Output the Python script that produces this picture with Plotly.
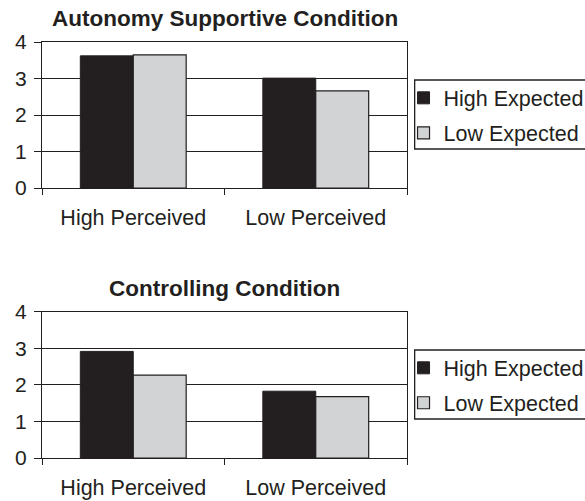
import plotly.graph_objects as go
from plotly.subplots import make_subplots

categories = ["High Perceived", "Low Perceived"]
series_names = ["High Expected", "Low Expected"]
autonomy_high_expected = [3.62, 3.01]
autonomy_low_expected = [3.65, 2.66]
controlling_high_expected = [2.92, 1.83]
controlling_low_expected = [2.27, 1.68]
titles = ["Autonomy Supportive Condition", "Controlling Condition"]
y_ticks = [0, 1, 2, 3, 4]

INK = "#231f20"
GRAY = "#d1d3d4"
FONT = "Liberation Sans, Arial, sans-serif"

fig = make_subplots(rows=2, cols=1, vertical_spacing=0.298,
                    subplot_titles=titles)

panels = [(autonomy_high_expected, autonomy_low_expected, "legend"),
          (controlling_high_expected, controlling_low_expected, "legend2")]
for i, (hi, lo, lg) in enumerate(panels, start=1):
    fig.add_trace(go.Bar(x=categories, y=hi, name=series_names[0],
                         marker=dict(color=INK, line=dict(color=INK, width=1)),
                         legend=lg, legendgroup="a%d" % i), row=i, col=1)
    fig.add_trace(go.Bar(x=categories, y=lo, name=series_names[1],
                         marker=dict(color=GRAY, line=dict(color=INK, width=1.2)),
                         legend=lg, legendgroup="b%d" % i), row=i, col=1)

axis_common = dict(showline=True, linecolor=INK, linewidth=1.3, mirror=True)
for i in (1, 2):
    fig.update_xaxes(type="category", tickson="boundaries", ticks="outside",
                     ticklen=6, tickcolor=INK, tickwidth=1.3, showgrid=False,
                     tickfont=dict(size=21.5, color=INK, family=FONT),
                     ticklabelstandoff=10, **axis_common, row=i, col=1)
    fig.update_yaxes(range=[0, 4], tickvals=y_ticks, ticks="outside", ticklen=7,
                     tickcolor=INK, tickwidth=1.3, showgrid=True, gridcolor=INK,
                     gridwidth=1.3, zeroline=False,
                     tickfont=dict(size=21, color=INK, family=FONT),
                     ticklabelstandoff=3, **axis_common, row=i, col=1)

for ann in fig.layout.annotations:
    ann.text = "<b>%s</b>" % ann.text
    ann.font = dict(size=22.5, color=INK, family=FONT)
    ann.yshift = 9

legend_style = dict(x=0.9905, xanchor="left", yanchor="top",
                    bgcolor="rgba(0,0,0,0)", borderwidth=0, tracegroupgap=4,
                    font=dict(size=21.5, color=INK, family=FONT))

# legend frames (the legend box runs past the right edge in the reference)
for y0, y1 in [(0.7428, 0.9087), (0.09375, 0.2596)]:
    fig.add_shape(type="rect", xref="paper", yref="paper", x0=1.021, x1=1.6,
                  y0=y0, y1=y1, line=dict(color=INK, width=1.3),
                  fillcolor="rgba(0,0,0,0)", layer="above")

fig.update_layout(
    width=585, height=501,
    margin=dict(l=42, r=178, t=42, b=43, autoexpand=False),
    plot_bgcolor="white", paper_bgcolor="white",
    barmode="group", bargap=0.42, bargroupgap=0,
    font=dict(family=FONT, color=INK),
    legend=dict(y=0.915, **legend_style),
    legend2=dict(y=0.266, **legend_style),
)

fig.write_html("out.html", config={"displayModeBar": False},
               post_script="document.body.style.margin='0';")
